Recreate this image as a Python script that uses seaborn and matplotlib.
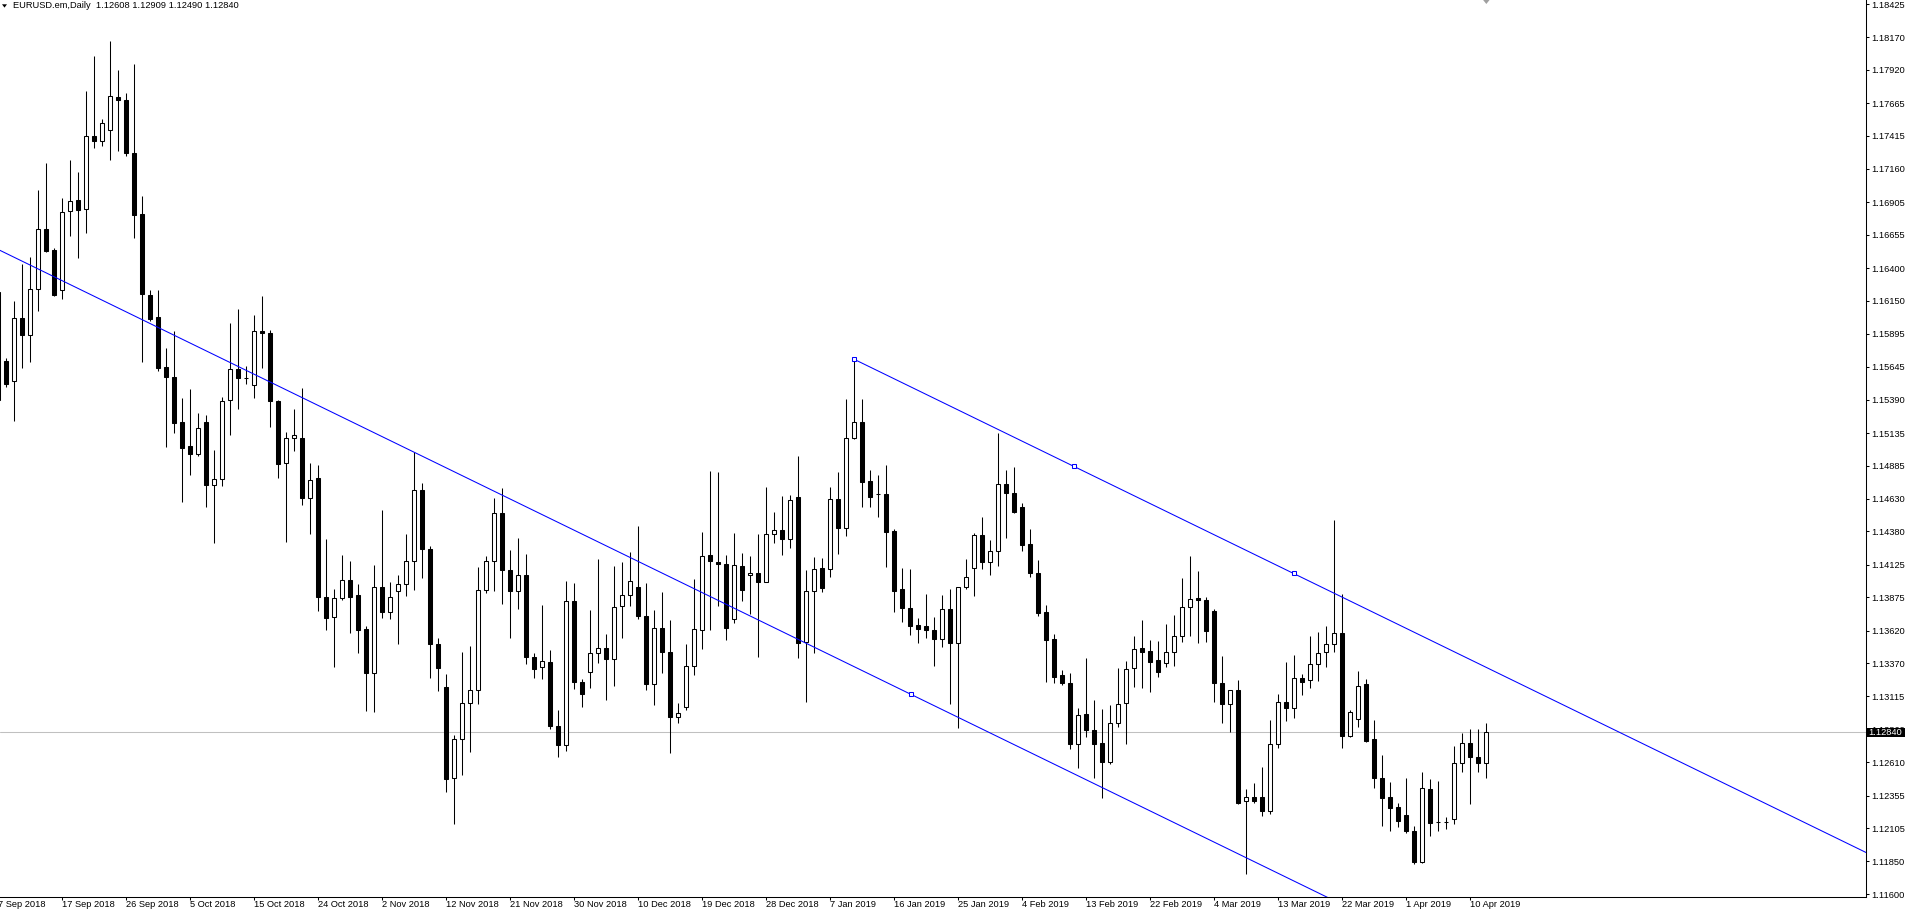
import matplotlib
matplotlib.use("Agg")
import matplotlib.pyplot as plt
import matplotlib.transforms as mtrans
from matplotlib.patches import Rectangle, Polygon
import seaborn as sns
import numpy as np
import pandas as pd

# ---------------- data ----------------
symbol_title = "EURUSD.em,Daily"
first_bar = -1          # index of the first (partially visible) bar

opens = [
    1.15390,
    1.15690, 1.15531, 1.16021, 1.15887, 1.16241, 1.16700, 1.16537, 1.16235, 1.16837, 1.16919,
    1.16851, 1.17412, 1.17375, 1.17458, 1.17715, 1.17692, 1.17284, 1.16814, 1.16195, 1.16027,
    1.15639, 1.15565, 1.15220, 1.15035, 1.14975, 1.15220, 1.14738, 1.14784, 1.15385, 1.15628,
    1.15556, 1.15502, 1.15919, 1.15901, 1.15380, 1.14909, 1.15100, 1.15095, 1.14638, 1.14790,
    1.13877, 1.13724, 1.13870, 1.14008, 1.13893, 1.13632, 1.13298, 1.13951, 1.13761, 1.13922,
    1.13979, 1.14155, 1.14695, 1.14246, 1.13519, 1.13190, 1.12488, 1.12786, 1.13065, 1.13164,
    1.13934, 1.14155, 1.14524, 1.14087, 1.13922, 1.14047, 1.13420, 1.13340, 1.13383, 1.12886,
    1.12744, 1.13849, 1.13227, 1.13303, 1.13448, 1.13488, 1.13403, 1.13809, 1.13894, 1.13951,
    1.13732, 1.13212, 1.13638, 1.13454, 1.12957, 1.13036, 1.13349, 1.13624, 1.14201, 1.14144,
    1.14130, 1.13709, 1.14118, 1.14043, 1.14059, 1.13990, 1.14358, 1.14389, 1.14325, 1.14644,
    1.13530, 1.13923, 1.14097, 1.14089, 1.14626, 1.14404, 1.15094, 1.15217, 1.14764, 1.14665,
    1.14665, 1.14383, 1.13939, 1.13790, 1.13660, 1.13655, 1.13622, 1.13558, 1.13783, 1.13527,
    1.13957, 1.14102, 1.14350, 1.14148, 1.14233, 1.14741, 1.14672, 1.14565, 1.14281, 1.14059,
    1.13760, 1.13553, 1.13279, 1.13215, 1.12748, 1.12978, 1.12857, 1.12755, 1.12615, 1.12909,
    1.13062, 1.13331, 1.13484, 1.13464, 1.13395, 1.13369, 1.13453, 1.13579, 1.13804, 1.13868,
    1.13852, 1.13770, 1.13216, 1.13055, 1.13165, 1.12314, 1.12347, 1.12347, 1.12237, 1.12748,
    1.13075, 1.13024, 1.13254, 1.13241, 1.13361, 1.13453, 1.13515, 1.13599, 1.12815, 1.12940,
    1.13208, 1.12786, 1.12492, 1.12347, 1.12265, 1.12204, 1.12083, 1.11848, 1.12403, 1.12155,
    1.12155, 1.12173, 1.12602, 1.12761, 1.12653, 1.12608,
]
highs = [
    1.16300,
    1.15713, 1.16144, 1.16429, 1.16483, 1.16999, 1.17204, 1.16557, 1.16934, 1.17227, 1.17139,
    1.17760, 1.18025, 1.17547, 1.18145, 1.17917, 1.17743, 1.17968, 1.16953, 1.16232, 1.16229,
    1.15790, 1.15921, 1.15402, 1.15474, 1.15291, 1.15274, 1.15003, 1.15411, 1.15976, 1.16090,
    1.15651, 1.16041, 1.16189, 1.15927, 1.15388, 1.15143, 1.15320, 1.15480, 1.14909, 1.14890,
    1.14322, 1.13939, 1.14199, 1.14153, 1.13977, 1.13655, 1.14121, 1.14547, 1.13993, 1.14050,
    1.14363, 1.14993, 1.14752, 1.14269, 1.13567, 1.13289, 1.12820, 1.13459, 1.13502, 1.14104,
    1.14192, 1.14638, 1.14712, 1.14235, 1.14329, 1.14204, 1.13445, 1.13817, 1.13468, 1.13014,
    1.14002, 1.13988, 1.13249, 1.13780, 1.14172, 1.13596, 1.14113, 1.14144, 1.14226, 1.14419,
    1.13988, 1.13780, 1.13917, 1.13704, 1.13065, 1.13519, 1.14013, 1.14377, 1.14845, 1.14840,
    1.14201, 1.14371, 1.14212, 1.14192, 1.14360, 1.14721, 1.14529, 1.14652, 1.14659, 1.14959,
    1.14084, 1.14184, 1.14174, 1.14721, 1.14836, 1.15393, 1.15700, 1.15393, 1.14851, 1.14813,
    1.14887, 1.14396, 1.14097, 1.14089, 1.13714, 1.13900, 1.13726, 1.13893, 1.13941, 1.13957,
    1.14169, 1.14371, 1.14488, 1.14314, 1.15132, 1.14851, 1.14874, 1.14596, 1.14399, 1.14161,
    1.13816, 1.13594, 1.13318, 1.13292, 1.13024, 1.13407, 1.13088, 1.13016, 1.13049, 1.13336,
    1.13390, 1.13579, 1.13702, 1.13548, 1.13540, 1.13671, 1.13740, 1.14023, 1.14192, 1.14077,
    1.13878, 1.13786, 1.13425, 1.13165, 1.13241, 1.12406, 1.12449, 1.12572, 1.12935, 1.13131,
    1.13377, 1.13433, 1.13287, 1.13579, 1.13609, 1.13655, 1.14468, 1.13898, 1.13011, 1.13310,
    1.13249, 1.12935, 1.12666, 1.12457, 1.12296, 1.12487, 1.12122, 1.12538, 1.12482, 1.12467,
    1.12188, 1.12735, 1.12832, 1.12863, 1.12863, 1.12909,
]
lows = [
    1.15240,
    1.15485, 1.15229, 1.15631, 1.15679, 1.16073, 1.16526, 1.16187, 1.16164, 1.16648, 1.16477,
    1.16671, 1.17318, 1.17333, 1.17227, 1.17298, 1.17259, 1.16634, 1.15679, 1.15993, 1.15608,
    1.15029, 1.15132, 1.14604, 1.14812, 1.14961, 1.14567, 1.14291, 1.14730, 1.15120, 1.15323,
    1.15508, 1.15400, 1.15636, 1.15183, 1.14790, 1.14296, 1.14995, 1.14581, 1.14362, 1.13770,
    1.13624, 1.13340, 1.13854, 1.13601, 1.13448, 1.13000, 1.12999, 1.13718, 1.13709, 1.13516,
    1.13888, 1.13931, 1.14022, 1.13255, 1.13156, 1.12380, 1.12133, 1.12511, 1.12687, 1.13056,
    1.13908, 1.13922, 1.13823, 1.13567, 1.13786, 1.13363, 1.13255, 1.13247, 1.12866, 1.12653,
    1.12696, 1.13170, 1.13036, 1.13178, 1.13369, 1.13090, 1.13193, 1.13562, 1.13809, 1.13709,
    1.13164, 1.13051, 1.13298, 1.12678, 1.12909, 1.13008, 1.13283, 1.13482, 1.13624, 1.13809,
    1.13548, 1.13681, 1.13848, 1.13744, 1.13415, 1.13990, 1.14294, 1.14202, 1.14256, 1.13412,
    1.13075, 1.13445, 1.13918, 1.14033, 1.14210, 1.14345, 1.15086, 1.14570, 1.14570, 1.14493,
    1.14110, 1.13765, 1.13688, 1.13589, 1.13522, 1.13560, 1.13351, 1.13496, 1.13054, 1.12875,
    1.13939, 1.13888, 1.14092, 1.14046, 1.14115, 1.14332, 1.14524, 1.14233, 1.14033, 1.13732,
    1.13228, 1.13215, 1.13200, 1.12709, 1.12564, 1.12801, 1.12487, 1.12333, 1.12597, 1.12878,
    1.12748, 1.13190, 1.13183, 1.13152, 1.13267, 1.13344, 1.13351, 1.13530, 1.13579, 1.13522,
    1.13535, 1.13075, 1.12909, 1.12840, 1.12288, 1.11754, 1.12296, 1.12201, 1.12211, 1.12722,
    1.12930, 1.12953, 1.13126, 1.13177, 1.13236, 1.13344, 1.13459, 1.12717, 1.12802, 1.12878,
    1.12768, 1.12411, 1.12124, 1.12086, 1.12117, 1.12071, 1.11828, 1.11841, 1.12048, 1.12086,
    1.12096, 1.12135, 1.12538, 1.12288, 1.12538, 1.12490,
]
closes = [
    1.16220,
    1.15508, 1.16021, 1.15884, 1.16241, 1.16697, 1.16532, 1.16192, 1.16828, 1.16916, 1.16848,
    1.17412, 1.17373, 1.17512, 1.17720, 1.17692, 1.17281, 1.16805, 1.16201, 1.16007, 1.15636,
    1.15562, 1.15214, 1.15021, 1.14978, 1.15172, 1.14738, 1.14784, 1.15380, 1.15625, 1.15556,
    1.15556, 1.15919, 1.15901, 1.15380, 1.14898, 1.15100, 1.15123, 1.14638, 1.14775, 1.13877,
    1.13716, 1.13870, 1.14008, 1.13877, 1.13624, 1.13294, 1.13951, 1.13761, 1.13874, 1.13979,
    1.14155, 1.14695, 1.14246, 1.13516, 1.13332, 1.12480, 1.12786, 1.13065, 1.13164, 1.13934,
    1.14155, 1.14524, 1.14084, 1.13922, 1.14047, 1.13420, 1.13326, 1.13388, 1.12886, 1.12744,
    1.13849, 1.13227, 1.13133, 1.13448, 1.13488, 1.13403, 1.13803, 1.13894, 1.14002, 1.13732,
    1.13212, 1.13638, 1.13454, 1.12957, 1.12991, 1.13349, 1.13633, 1.14192, 1.14150, 1.14130,
    1.13638, 1.14121, 1.13934, 1.14059, 1.13990, 1.14358, 1.14389, 1.14325, 1.14619, 1.13522,
    1.13923, 1.14089, 1.13944, 1.14626, 1.14404, 1.15094, 1.15217, 1.14762, 1.14642, 1.14665,
    1.14378, 1.13926, 1.13790, 1.13658, 1.13629, 1.13622, 1.13553, 1.13783, 1.13527, 1.13957,
    1.14033, 1.14350, 1.14148, 1.14233, 1.14741, 1.14677, 1.14529, 1.14279, 1.14059, 1.13757,
    1.13548, 1.13266, 1.13220, 1.12748, 1.12972, 1.12857, 1.12748, 1.12615, 1.12914, 1.13054,
    1.13326, 1.13476, 1.13459, 1.13382, 1.13305, 1.13453, 1.13579, 1.13804, 1.13860, 1.13852,
    1.13620, 1.13216, 1.13055, 1.13165, 1.12301, 1.12347, 1.12316, 1.12237, 1.12748, 1.13075,
    1.13024, 1.13254, 1.13223, 1.13361, 1.13451, 1.13515, 1.13599, 1.12815, 1.12993, 1.13198,
    1.12774, 1.12492, 1.12339, 1.12257, 1.12163, 1.12083, 1.11848, 1.12411, 1.12147, 1.12155,
    1.12155, 1.12602, 1.12761, 1.12648, 1.12602, 1.12840,
]

date_labels = ["7 Sep 2018", "17 Sep 2018", "26 Sep 2018", "5 Oct 2018", "15 Oct 2018",
               "24 Oct 2018", "2 Nov 2018", "12 Nov 2018", "21 Nov 2018", "30 Nov 2018",
               "10 Dec 2018", "19 Dec 2018", "28 Dec 2018", "7 Jan 2019", "16 Jan 2019",
               "25 Jan 2019", "4 Feb 2019", "13 Feb 2019", "22 Feb 2019", "4 Mar 2019",
               "13 Mar 2019", "22 Mar 2019", "1 Apr 2019", "10 Apr 2019"]
label_step = 8  # bars between time labels

price_ticks = [1.18425, 1.18170, 1.17920, 1.17665, 1.17415, 1.17160, 1.16905, 1.16655,
               1.16400, 1.16150, 1.15895, 1.15645, 1.15390, 1.15135, 1.14885, 1.14630,
               1.14380, 1.14125, 1.13875, 1.13620, 1.13370, 1.13115, 1.12860, 1.12610,
               1.12355, 1.12105, 1.11850, 1.11600]
bid_price = 1.12840

# channel (bar index, price)
upper_line_bars = [106, 240]
upper_line_prices = [1.15700, 1.11693]
upper_handle_bars = [106, 133.5, 161]
upper_handle_prices = [1.15700, 1.14882, 1.14059]
lower_line_bars = [-2, 200]
lower_line_prices = [1.16572, 1.10532]
lower_handle_bars = [113.1]
lower_handle_prices = [1.13133]

# ---------------- figure ----------------
sns.set_theme(style="white")
plt.rcParams['font.family'] = ['Liberation Sans', 'DejaVu Sans']

W, H, DPI = 1909, 915, 100
FS = 6.7
fig = plt.figure(figsize=(W / DPI, H / DPI), dpi=DPI)
fig.patch.set_facecolor('white')
ax = fig.add_axes([0, (H - 897) / H, 1866 / W, 897 / H])
ax.set_facecolor('white')

xlim = (-0.791, 232.46)
ylim = (1.11577, 1.18456)
ax.set_xlim(*xlim)
ax.set_ylim(*ylim)

bars = np.arange(len(opens)) + first_bar
o = np.array(opens); hi = np.array(highs); lo = np.array(lows); c = np.array(closes)
up = c >= o

ax.axhline(bid_price, color='#c0c0c0', linewidth=0.75, zorder=1)
ax.vlines(bars, lo, hi, colors='black', linewidth=0.75, zorder=3)
ax.bar(bars, np.maximum(np.abs(c - o), 1e-6), bottom=np.minimum(o, c), width=0.5,
       color=['white' if u else 'black' for u in up], edgecolor='black',
       linewidth=0.75, zorder=4)

df_up = pd.DataFrame({'bar': upper_line_bars, 'price': upper_line_prices})
df_lo = pd.DataFrame({'bar': lower_line_bars, 'price': lower_line_prices})
sns.lineplot(data=df_up, x='bar', y='price', ax=ax, color='#0000ff', linewidth=0.75, zorder=5)
sns.lineplot(data=df_lo, x='bar', y='price', ax=ax, color='#0000ff', linewidth=0.75, zorder=5)
ax.plot(upper_handle_bars + lower_handle_bars, upper_handle_prices + lower_handle_prices,
        ls='none', marker='s', ms=3.2, mfc='white', mec='#0000ff', mew=0.75, zorder=6)

ax.set_xlabel(''); ax.set_ylabel('')
for s in ['top', 'left']:
    ax.spines[s].set_visible(False)
for s in ['right', 'bottom']:
    ax.spines[s].set_visible(True)
    ax.spines[s].set_color('black')
    ax.spines[s].set_linewidth(0.75)

# y axis on the right
ax.yaxis.tick_right()
ax.set_yticks(price_ticks)
ax.set_yticklabels([f"{p:.5f}" for p in price_ticks])
ax.tick_params(axis='y', which='major', direction='out', length=2.2, width=0.75,
               pad=1.5, labelsize=FS, colors='black', right=True, left=False)

# x axis time labels
label_bars = [first_bar + label_step * i for i in range(len(date_labels))]
vis = [b for b in label_bars if xlim[0] <= b <= xlim[1]]
ax.set_xticks(vis)
ax.set_xticklabels([])
ax.tick_params(axis='x', which='major', direction='out', length=2.2, width=0.75,
               bottom=True, colors='black')
bx = mtrans.blended_transform_factory(ax.transData, ax.transAxes)
for b, lab in zip(label_bars, date_labels):
    ax.annotate(lab, xy=(b, 0), xycoords=bx, xytext=(0, -3), textcoords='offset pixels',
                ha='left', va='top', fontsize=FS, color='black', annotation_clip=False)

# chart-shift marker at the top, above the last bar
last_bar = bars[-1]
ax.add_patch(Polygon([[last_bar - 0.4, 1.0], [last_bar + 0.4, 1.0], [last_bar, 1.0 - 4 / 897]],
                     closed=True, transform=bx, facecolor='#a0a0a0', edgecolor='none',
                     clip_on=False, zorder=7))

# bid price box
ppx = (ylim[1] - ylim[0]) / 897.0
by = mtrans.blended_transform_factory(ax.transAxes, ax.transData)
ax.add_patch(Rectangle((1.0 + 0.5 / 1866, bid_price - 4.7 * ppx), 38 / 1866, 9.4 * ppx,
                       transform=by, facecolor='black', edgecolor='none',
                       clip_on=False, zorder=20))
ax.text(1.0 + 2 / 1866, bid_price, f"{bid_price:.5f}", transform=by, color='white',
        ha='left', va='center', fontsize=FS, zorder=21, clip_on=False)

# title
fig.text(13 / W, 1 - 6 / H,
         f"{symbol_title}  {o[-1]:.5f} {hi[-1]:.5f} {lo[-1]:.5f} {c[-1]:.5f}",
         fontsize=FS, ha='left', va='center', color='black')
fig.patches.append(Polygon([[2 / W, 1 - 4.3 / H], [7 / W, 1 - 4.3 / H], [4.5 / W, 1 - 7.6 / H]],
                           closed=True, transform=fig.transFigure, facecolor='black',
                           edgecolor='none'))

fig.savefig('out.png', dpi=DPI, facecolor='white')
